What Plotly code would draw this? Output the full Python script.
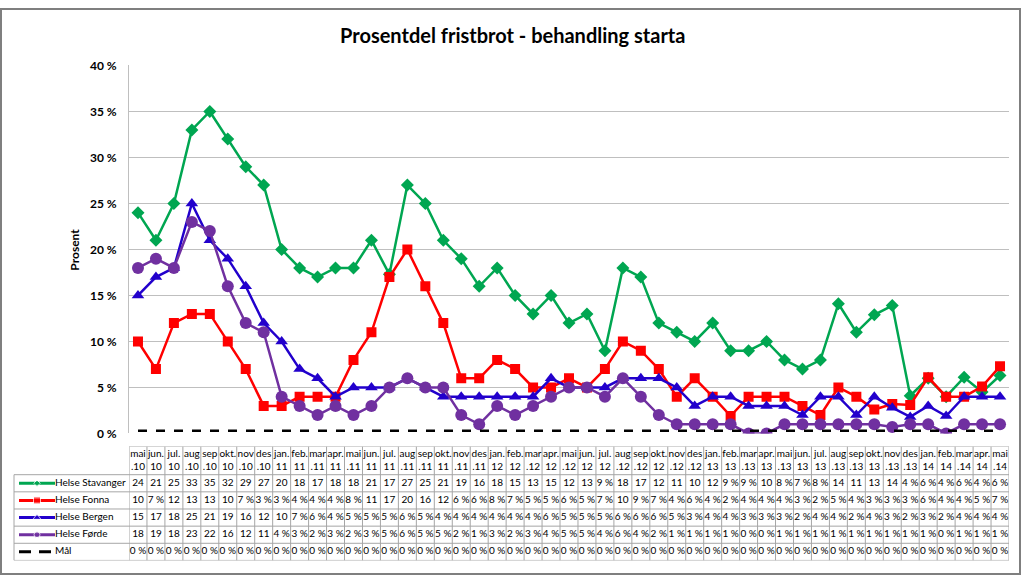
import plotly.graph_objects as go

months = ["mai<br>.10","jun.<br>10","jul.<br>10","aug<br>.10","sep<br>.10","okt.<br>10","nov<br>.10","des<br>.10",
          "jan.<br>11","feb.<br>11","mar<br>.11","apr.<br>11","mai<br>.11","jun.<br>11","jul.<br>11","aug<br>.11",
          "sep<br>.11","okt.<br>11","nov<br>.11","des<br>.11","jan.<br>12","feb.<br>12","mar<br>.12","apr.<br>12",
          "mai<br>.12","jun.<br>12","jul.<br>12","aug<br>.12","sep<br>.12","okt.<br>12","nov<br>.12","des<br>.12",
          "jan.<br>13","feb.<br>13","mar<br>.13","apr.<br>13","mai<br>.13","jun.<br>13","jul.<br>13","aug<br>.13",
          "sep<br>.13","okt.<br>13","nov<br>.13","des<br>.13","jan.<br>14","feb.<br>14","mar<br>.14","apr.<br>14","mai<br>.14"]

stavanger = [24,21,25,33,35,32,29,27,20,18,17,18,18,21,17.3,27,25,21,19,16,18,15,13,15,12,13,9,18,17,12,11,10,
             12,9,9,10,8,7,8,14.1,11,12.9,13.9,4.1,6,4,6.1,4.5,6.3]
fonna = [10,7,12,13,13,10,7,3,3,4,4,4,8,11,17,20,16,12,6,6,8,7,5,5,6,5,7,10,9,7,4,6,
         4,1.9,4,4,4,3,2,5,4,2.6,3.2,3.1,6.1,4,4,5.1,7.3]
bergen = [15,17,18,25,21,19,16,12,10,7,6,4,5,5,5,6,5,4,4,4,4,4,4,6,5,5,5,6,6,6,5,3,
          4,4,3,3,3,2,4,4,2,4,2.8,1.8,3,1.9,4,4,4]
forde = [18,19,18,23,22,16,12,11,4,3,2,3,2,3,5,6,5,5,2,1,3,2,3,4,5,5,4,6,4,2,1,1,
         1,1,0,0,1,1,1,1,1,1,0.7,1,1,0,1,1,1]
maal = [0.3]*49

series = [
    ("Helse Stavanger", stavanger, "#00A651", "diamond", 10, 5),
    ("Helse Fonna", fonna, "#FF0000", "square", 10, 7),
    ("Helse Bergen", bergen, "#2200CC", "triangle-up", 11, 7),
    ("Helse Førde", forde, "#7030A0", "circle", 12, 6),
]

FONT = "Lato"
W, H = 1024, 584
def py(p):  # pixel y -> paper
    return (H - p) / H

fig = go.Figure()
x = list(range(len(months)))

for name, vals, col, sym, size, _ in series:
    fig.add_trace(go.Scatter(x=x, y=vals, mode="lines+markers", name=name,
                             line=dict(color=col, width=2.5),
                             marker=dict(symbol=sym, size=size, color=col),
                             xaxis="x", yaxis="y", showlegend=False))
fig.add_trace(go.Scatter(x=x, y=maal, mode="lines", name="Mål",
                         line=dict(color="black", width=2.5, dash="9px,9px"),
                         xaxis="x", yaxis="y", showlegend=False))

# ---- data table under the chart ----
row_edges = [479, 496.6, 514.2, 531.8, 549.4, 567]
row_centers = [(row_edges[i] + row_edges[i+1]) / 2 for i in range(5)]
header_top = 450
grid_color = "#A6A6A6"

def fmt(v):
    n = int(round(v))
    return str(n) if n >= 10 else f"{n} %"

gx, gy = [], []
for i in range(len(months) + 1):
    gx += [i - 0.5, i - 0.5, None]
    gy += [header_top, row_edges[-1], None]
gx += [-0.5, len(months) - 0.5, None]
gy += [header_top, header_top, None]
for e in row_edges:
    gx += [-0.5, len(months) - 0.5, None]
    gy += [e, e, None]
fig.add_trace(go.Scatter(x=gx, y=gy, mode="lines", line=dict(color=grid_color, width=1),
                         xaxis="x", yaxis="y2", showlegend=False, hoverinfo="skip"))

fig.add_trace(go.Scatter(x=x, y=[(header_top + row_edges[0]) / 2] * len(months), mode="text",
                         text=months, textfont=dict(family=FONT, size=10, color="black"),
                         xaxis="x", yaxis="y2", showlegend=False, hoverinfo="skip"))
all_vals = [s[1] for s in series] + [maal]
for r, vals in enumerate(all_vals):
    fig.add_trace(go.Scatter(x=x, y=[row_centers[r]] * len(months), mode="text",
                             text=[fmt(v) for v in vals],
                             textfont=dict(family=FONT, size=10, color="black"),
                             xaxis="x", yaxis="y2", showlegend=False, hoverinfo="skip"))

lx, ly = [], []
for e in row_edges:
    lx += [14, 129, None]
    ly += [e, e, None]
lx += [14, 14, None]
ly += [row_edges[0], row_edges[-1], None]
fig.add_trace(go.Scatter(x=lx, y=ly, mode="lines", line=dict(color=grid_color, width=1),
                         xaxis="x3", yaxis="y2", showlegend=False, hoverinfo="skip"))
for r, (name, vals, col, sym, size, lsize) in enumerate(series):
    yc = row_centers[r]
    fig.add_trace(go.Scatter(x=[19, 37, 55], y=[yc, yc, yc], mode="lines+markers",
                             line=dict(color=col, width=3),
                             marker=dict(symbol=sym, size=[0, lsize, 0], color=col),
                             xaxis="x3", yaxis="y2", showlegend=False, hoverinfo="skip"))
fig.add_trace(go.Scatter(x=[19, 31, None, 39, 51], y=[row_centers[4]] * 2 + [None] + [row_centers[4]] * 2,
                         mode="lines", line=dict(color="black", width=3),
                         xaxis="x3", yaxis="y2", showlegend=False, hoverinfo="skip"))
names = [s[0] for s in series] + ["Mål"]
fig.add_trace(go.Scatter(x=[55] * 5, y=row_centers, mode="text", text=names, textposition="middle right",
                         textfont=dict(family=FONT, size=10, color="black"),
                         xaxis="x3", yaxis="y2", showlegend=False, hoverinfo="skip"))

fig.update_layout(
    width=W, height=H, margin=dict(l=0, r=0, t=0, b=0),
    paper_bgcolor="white", plot_bgcolor="white",
    font=dict(family=FONT, color="black"),
    xaxis=dict(domain=[129 / W, 1009 / W], range=[-0.5, len(months) - 0.5], showgrid=False,
               zeroline=False, showticklabels=False, ticks="", anchor="y"),
    yaxis=dict(domain=[py(436.7), py(59)], range=[0, 40], tickvals=list(range(0, 41, 5)),
               ticktext=[f"{v} %" for v in range(0, 41, 5)], showgrid=True, gridcolor="#BFBFBF",
               gridwidth=1, zeroline=False, showline=True, linecolor="#BFBFBF", linewidth=1,
               ticks="outside", ticklen=9, tickcolor="rgba(0,0,0,0)",
               tickfont=dict(family=FONT, size=12, color="black", weight="bold"), anchor="x"),
    yaxis2=dict(domain=[py(567), py(450)], range=[567, 450], visible=False, anchor="x"),
    xaxis3=dict(domain=[0, 129 / W], range=[0, 129], visible=False, anchor="y2"),
    annotations=[
        dict(text="Prosentdel fristbrot - behandling starta", x=512 / W, y=py(28), xref="paper", yref="paper",
             showarrow=False, font=dict(family=FONT, size=20, color="black", weight="bold"),
             xanchor="center", yanchor="middle"),
        dict(text="Prosent", x=75 / W, y=py(248), xref="paper", yref="paper", textangle=-90,
             showarrow=False, font=dict(family=FONT, size=12, color="black", weight="bold"),
             xanchor="center", yanchor="middle"),
    ],
    shapes=[dict(type="rect", xref="paper", yref="paper", x0=1 / W, x1=1020 / W, y0=py(581), y1=py(1),
                 line=dict(color="#7F7F7F", width=2))],
)

fig.write_html("out.html", config={"displayModeBar": False},
               post_script="document.body.style.margin='0';document.body.style.overflow='hidden';")
